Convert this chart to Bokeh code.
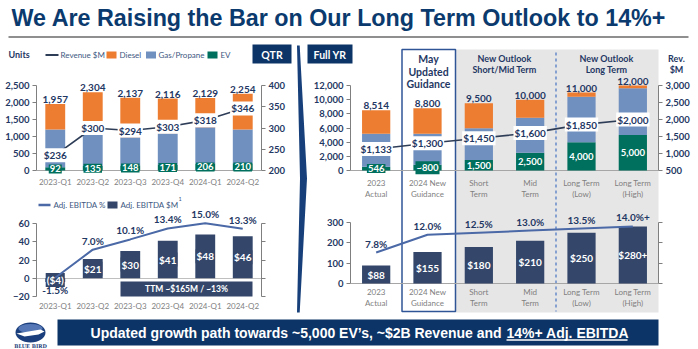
from bokeh.plotting import figure
from bokeh.models import (Range1d, FactorRange, LinearAxis, FixedTicker,
                          NumeralTickFormatter, ColumnDataSource, GridBox)
from bokeh.core.properties import value
from bokeh.embed import file_html
from bokeh.resources import INLINE

# ---------------- data ----------------
q_cats = ["2023-Q1", "2023-Q2", "2023-Q3", "2023-Q4", "2024-Q1", "2024-Q2"]
q_ev = [92, 135, 148, 171, 206, 210]
q_gas = [1114, 924, 832, 927, 1069, 996]
q_diesel = [751, 1245, 1157, 1018, 854, 1048]
q_units_total = [1957, 2304, 2137, 2116, 2129, 2254]
q_revenue = [236, 300, 294, 303, 318, 346]
q_ebitda = [-4, 21, 30, 41, 48, 46]
q_ebitda_labels = ["($4)", "$21", "$30", "$41", "$48", "$46"]
q_ebitda_pct = [-1.5, 7.0, 10.1, 13.4, 15.0, 13.3]

y_cats = ["2023 Actual", "2024 New Guidance", "Short Term", "Mid Term", "Long Term (Low)", "Long Term (High)"]
y_cat_line1 = ["2023", "2024 New", "Short", "Mid", "Long Term", "Long Term"]
y_cat_line2 = ["Actual", "Guidance", "Term", "Term", "(Low)", "(High)"]
y_ev = [546, 800, 1500, 2500, 4000, 5000]
y_ev_labels = ["546", "~800", "1,500", "2,500", "4,000", "5,000"]
y_gas = [4630, 4376, 4476, 4935, 6400, 6624]
y_diesel = [3338, 3624, 3524, 2565, 600, 376]
y_units_total = [8514, 8800, 9500, 10000, 11000, 12000]
y_revenue = [1133, 1300, 1450, 1600, 1850, 2000]
y_ebitda = [88, 155, 180, 210, 250, 280]
y_ebitda_labels = ["$88", "$155", "$180", "$210", "$250", "$280+"]
y_ebitda_pct = [7.8, 12.0, 12.5, 13.0, 13.5, 14.0]
y_pct_labels = ["7.8%", "12.0%", "12.5%", "13.0%", "13.5%", "14.0%+"]

title_text = "We Are Raising the Bar on Our Long Term Outlook to 14%+"
banner_main = "Updated growth path towards ~5,000 EV\u2019s, ~$2B Revenue and "
banner_ul = "14%+ Adj. EBITDA"
ttm_text = "TTM ~$165M / ~13%"

# ---------------- styles ----------------
NAVY = "#1f3864"
BOXNAVY = "#0c3466"
ORANGE = "#ed7d31"
GAS = "#7090c0"
TEAL = "#00705e"
EBAR = "#34476b"
REVLINE = "#2e3d57"
PCTLINE = "#4a69a6"
AXIS = "#7f7f7f"
XLAB = "#7f7f7f"
LEG = "#40587f"
FONT = "Lato"
TFONT = "Liberation Sans"


def frange(va, pa, vb, pb, top, bot):
    s = (pa - pb) / (vb - va)
    return Range1d(va - (bot - pa) / s, va + (pa - top) / s)


def mkfig(fw, fh, left, right, top, bottom, x_range, y_range, margin):
    p = figure(frame_width=fw, frame_height=fh, x_range=x_range, y_range=y_range,
               min_border_left=left, min_border_right=right, min_border_top=top,
               min_border_bottom=bottom, toolbar_location=None, output_backend="svg",
               title=None, outline_line_color=None, background_fill_color=None,
               border_fill_color=None, margin=margin, frame_align=False)
    p.grid.visible = False
    return p


def style_y(ax, ticks, bounds, fmt=None, labels=True):
    ax.ticker = FixedTicker(ticks=ticks)
    ax.bounds = bounds
    ax.axis_line_color = AXIS
    ax.major_tick_line_color = AXIS
    ax.major_tick_out = 4
    ax.major_tick_in = 0
    ax.minor_tick_line_color = None
    ax.major_label_text_font = FONT
    ax.major_label_text_font_style = "bold"
    ax.major_label_text_font_size = "9.5px"
    ax.major_label_text_color = NAVY
    ax.major_label_standoff = 3
    if fmt:
        ax.formatter = NumeralTickFormatter(format=fmt)
    if not labels:
        ax.major_label_overrides = {t: "" for t in ticks}


def style_x(ax, overrides=None, standoff=1):
    ax.axis_line_color = None
    ax.major_tick_line_color = None
    ax.minor_tick_line_color = None
    ax.major_tick_out = 0
    ax.major_tick_in = 0
    ax.major_label_text_font = FONT
    ax.major_label_text_font_size = "8px"
    ax.major_label_text_color = XLAB
    ax.major_label_standoff = standoff
    if overrides:
        ax.major_label_overrides = overrides


def tx(p, x, y, text, size="9.5px", color=NAVY, bold=True, align="center", baseline="middle",
       font=FONT, **kw):
    return p.text(x=x, y=y, text=text, text_font=value(font), text_font_size=size,
                  text_font_style="bold" if bold else "normal", text_color=color,
                  text_align=align, text_baseline=baseline, **kw)


# ---------------- base canvas (decorations) ----------------
base = figure(width=698, height=349, x_range=Range1d(0, 698), y_range=Range1d(349, 0),
              min_border=0, toolbar_location=None, output_backend="svg", title=None,
              outline_line_color=None, x_axis_type=None, y_axis_type=None,
              background_fill_color="white", border_fill_color="white", frame_align=False)
base.grid.visible = False

tx(base, [11], [17], [title_text], size="23.3px", color="#0b3a6e", align="left", font=TFONT)
base.line([8, 688], [36.5, 36.5], line_color="#8f8f8f", line_width=2)

# right panel background, guidance box, dashed divider
base.quad(left=[455], right=[658], top=[49], bottom=[312], fill_color="#e7e6e6", line_color=None)
base.quad(left=[401.5], right=[455], top=[49], bottom=[311], fill_color=None,
          line_color="#2f5597", line_width=1.5)
base.line([555.5, 555.5], [52, 311], line_color="#4472c4", line_width=1.2, line_dash="3 3")

tx(base, [428, 428, 428], [58, 71, 83], ["May", "Updated", "Guidance"], size="10.5px")
tx(base, [504, 504], [57.5, 68.5], ["New Outlook", "Short/Mid Term"], size="9px")
tx(base, [606, 606], [57.5, 68.5], ["New Outlook", "Long Term"], size="9px")
tx(base, [676, 676], [58, 69], ["Rev.", "$M"], size="9px")

# QTR / Full YR tags
base.quad(left=[252, 307], right=[291, 352], top=[44, 44], bottom=[63, 63], fill_color=BOXNAVY,
          line_color=None)
tx(base, [271.5, 329.5], [54, 54], ["QTR", "Full YR"], size="10.5px", color="white")

# chevron divider
base.patch([296.5, 299.2, 306.5, 299.2, 296.5, 299.5], [45, 45, 178, 312, 312, 178],
           fill_color="#17407a", line_color=None)

# top-left legend
tx(base, [8], [53.5], ["Units"], size="9px", align="left")
base.line([45, 58], [54.5, 54.5], line_color=REVLINE, line_width=2)
tx(base, [60], [54.5], ["Revenue $M"], size="8px", color=LEG, bold=False, align="left")
base.quad(left=[106, 145.5, 207], right=[116, 155.5, 217], top=[51, 51, 51], bottom=[58, 58, 58],
          fill_color=[ORANGE, GAS, TEAL], line_color=None)
tx(base, [119, 158, 220], [54.5, 54.5, 54.5], ["Diesel", "Gas/Propane", "EV"], size="8px",
   color=LEG, bold=False, align="left")

# bottom-left legend
base.line([38, 50], [204.5, 204.5], line_color=PCTLINE, line_width=2.5)
tx(base, [53], [204.5], ["Adj. EBITDA %"], size="8px", color=LEG, bold=False, align="left")
base.quad(left=[107], right=[117], top=[201], bottom=[208], fill_color=EBAR, line_color=None)
tx(base, [120], [204.5], ["Adj. EBITDA $M"], size="8px", color=LEG, bold=False, align="left")
tx(base, [178], [198], ["1"], size="5.5px", color=LEG, bold=False, align="left")

# TTM callout
base.quad(left=[120], right=[252], top=[281], bottom=[296], fill_color=EBAR, line_color=None)
tx(base, [186], [288.5], [ttm_text], size="8.5px", color="white")

# banner
base.quad(left=[57], right=[658], top=[319], bottom=[345], fill_color=BOXNAVY, line_color=None)
tx(base, [505], [332.5], [banner_main], size="14px", color="white", align="right", font=TFONT)
tx(base, [506], [332.5], [banner_ul], size="14px", color="white", align="left", font=TFONT)
base.line([506, 627], [339.5, 339.5], line_color="white", line_width=1.3)

# logo
base.ellipse(x=[30], y=[332], width=[30], height=[20], fill_color="#1b3f7c", line_color=None)
base.ellipse(x=[30], y=[328], width=[24], height=[9], fill_color="#5577b5", line_color=None)
base.patch([16, 40, 44, 38, 24], [333, 329, 331, 334, 336], fill_color="white", line_color=None)
tx(base, [30], [345.5], ["BLUE BIRD"], size="5px", color="#1b3f7c", font="DejaVu Serif")

# ---------------- left top: quarterly units ----------------
lt = mkfig(225, 116, 36, 37, 22, 20, FactorRange(*q_cats), frange(0, 170, 2500, 85, 62, 178),
           (40, 0, 0, 0))
lt.extra_y_ranges = {"rev": frange(200, 170, 400, 85, 62, 178)}
style_y(lt.yaxis[0], [0, 500, 1000, 1500, 2000, 2500], (0, 2500), "0,0")
rax = LinearAxis(y_range_name="rev")
style_y(rax, [200, 250, 300, 350, 400], (200, 400))
lt.add_layout(rax, "right")
style_x(lt.xaxis[0], standoff=-2)

qsrc = ColumnDataSource(dict(cat=q_cats, ev=q_ev, gas=q_gas, diesel=q_diesel,
                             total=q_units_total, total_lbl=["{:,}".format(v) for v in q_units_total],
                             ev_y=[v / 2 for v in q_ev], ev_lbl=[str(v) for v in q_ev],
                             rev=q_revenue, rev_lbl=["${}".format(v) for v in q_revenue]))
lt.hspan(y=[0], line_color="#a6a6a6", line_width=1)
lt.vbar_stack(["ev", "gas", "diesel"], x="cat", width=0.53, color=[TEAL, GAS, ORANGE],
              line_color=None, source=qsrc)
tx(lt, "cat", "total", "total_lbl", size="10px", baseline="bottom", y_offset=-1, source=qsrc)
lt.line(x="cat", y="rev", y_range_name="rev", line_color=REVLINE, line_width=1.6, source=qsrc)
tx(lt, "cat", "rev", "rev_lbl", size="10px", y_range_name="rev", source=qsrc,
   background_fill_color="white", padding=1)
tx(lt, "cat", "ev_y", "ev_lbl", size="9.5px", color="white", source=qsrc,
   background_fill_color=TEAL, padding=1)

# ---------------- left bottom: quarterly EBITDA ----------------
lb = mkfig(225, 93, 36, 37, 13, 16, FactorRange(*q_cats), frange(-20, 296, 60, 223, 205, 298),
           (192, 0, 0, 0))
lb.extra_y_ranges = {"pct": frange(-1.5, 277.3, 15.0, 222.7, 205, 298)}
style_y(lb.yaxis[0], [-20, 0, 20, 40, 60], (-20, 60))
rax2 = LinearAxis()
style_y(rax2, [-20, 0, 20, 40, 60], (-20, 60), labels=False)
lb.add_layout(rax2, "right")
style_x(lb.xaxis[0], standoff=2)

esrc = ColumnDataSource(dict(cat=q_cats, e=q_ebitda, e_y=[v / 2 for v in q_ebitda],
                             e_lbl=q_ebitda_labels, pct=q_ebitda_pct,
                             pct_lbl=["{:.1f}%".format(v) for v in q_ebitda_pct],
                             pct_off=[12 if v < 0 else -9 for v in q_ebitda_pct]))
lb.hspan(y=[0], line_color="#bfbfbf", line_width=1)
lb.vbar(x="cat", top="e", bottom=0, width=0.53, fill_color=EBAR, line_color=None, source=esrc)
tx(lb, "cat", "e_y", "e_lbl", size="10px", color="white", source=esrc,
   background_fill_color=EBAR, padding=1)
lb.line(x="cat", y="pct", y_range_name="pct", line_color=PCTLINE, line_width=2, source=esrc)
tx(lb, "cat", "pct", "pct_lbl", size="10px", y_range_name="pct", y_offset="pct_off", source=esrc)

# ---------------- full-year charts: category positions on a numeric scale ----------------
y_pos = list(range(len(y_cats)))


def two_line_x(p, standoff):
    ax1 = p.xaxis[0]
    ax1.ticker = FixedTicker(ticks=y_pos, minor_ticks=[])
    style_x(ax1, dict(zip(y_pos, y_cat_line1)), standoff=standoff)
    ax2 = LinearAxis(ticker=FixedTicker(ticks=y_pos, minor_ticks=[]))
    style_x(ax2, dict(zip(y_pos, y_cat_line2)), standoff=-2)
    p.add_layout(ax2, "below")


# ---------------- right top: full-year units ----------------
rt = mkfig(308, 108, 47, 40, 30, 26, Range1d(-0.5, len(y_cats) - 0.5),
           frange(0, 170, 12000, 85, 70, 178), (40, 0, 0, 303))
rt.extra_y_ranges = {"rev": frange(500, 170, 3000, 85, 70, 178)}
style_y(rt.yaxis[0], [0, 2000, 4000, 6000, 8000, 10000, 12000], (0, 12000), "0,0")
rax3 = LinearAxis(y_range_name="rev")
style_y(rax3, [500, 1000, 1500, 2000, 2500, 3000], (500, 3000), "0,0")
rt.add_layout(rax3, "right")
two_line_x(rt, -1)

ysrc = ColumnDataSource(dict(pos=y_pos, cat=y_cats, ev=y_ev, gas=y_gas, diesel=y_diesel,
                             total=y_units_total, total_lbl=["{:,}".format(v) for v in y_units_total],
                             ev_y=[v / 2 for v in y_ev], ev_lbl=y_ev_labels,
                             rev=y_revenue, rev_lbl=["${:,}".format(v) for v in y_revenue]))
rt.hspan(y=[0], line_color="#a6a6a6", line_width=1)
rt.vbar_stack(["ev", "gas", "diesel"], x="pos", width=0.55, color=[TEAL, GAS, ORANGE],
              line_color=None, source=ysrc)
tx(rt, "pos", "total", "total_lbl", size="10px", baseline="bottom", y_offset=-1, source=ysrc)
rt.line(x="pos", y="rev", y_range_name="rev", line_color=REVLINE, line_width=1.6, source=ysrc)
tx(rt, "pos", "rev", "rev_lbl", size="10px", y_range_name="rev", source=ysrc,
   background_fill_color="white", padding=1)
tx(rt, "pos", "ev_y", "ev_lbl", size="9.5px", color="white", source=ysrc,
   background_fill_color=TEAL, padding=1)

# ---------------- right bottom: full-year EBITDA ----------------
rb = mkfig(308, 77, 47, 40, 4, 27, Range1d(-0.5, len(y_cats) - 0.5),
           frange(0, 283, 300, 222, 208, 285), (204, 0, 0, 303))
rb.extra_y_ranges = {"pct": frange(7.8, 252, 14.0, 225.9, 208, 285)}
style_y(rb.yaxis[0], [0, 100, 200, 300], (0, 300))
rax4 = LinearAxis()
style_y(rax4, [0, 100, 200, 300], (0, 300), labels=False)
rb.add_layout(rax4, "right")
two_line_x(rb, 1)

fsrc = ColumnDataSource(dict(pos=y_pos, cat=y_cats, e=y_ebitda, e_y=[v / 2 for v in y_ebitda],
                             e_lbl=y_ebitda_labels, pct=y_ebitda_pct, pct_lbl=y_pct_labels))
rb.hspan(y=[0], line_color="#a6a6a6", line_width=1)
rb.vbar(x="pos", top="e", bottom=0, width=0.55, fill_color=EBAR, line_color=None, source=fsrc)
tx(rb, "pos", "e_y", "e_lbl", size="10px", color="white", source=fsrc)
rb.line(x="pos", y="pct", y_range_name="pct", line_color=PCTLINE, line_width=2, source=fsrc)
tx(rb, "pos", "pct", "pct_lbl", size="10px", y_range_name="pct", y_offset=-9, source=fsrc)

layout = GridBox(children=[(base, 0, 0), (lt, 0, 0), (lb, 0, 0), (rt, 0, 0), (rb, 0, 0)])

open("out.html", "w").write(file_html(layout, INLINE))
